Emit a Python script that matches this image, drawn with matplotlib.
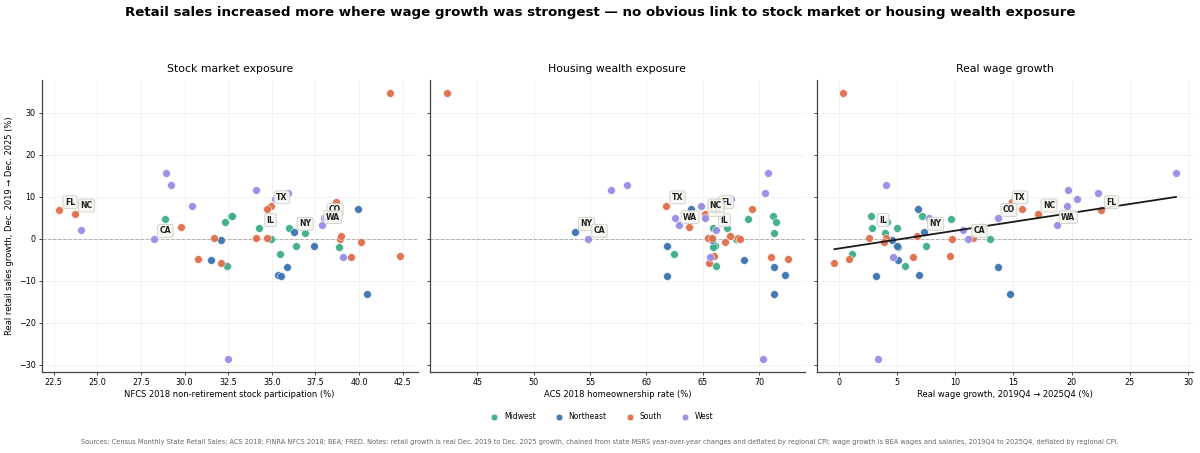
import numpy as np
import matplotlib
matplotlib.use("Agg")
import matplotlib.pyplot as plt

# ---- data ----
labels = ["", "FL", "NC", "TX", "", "", "", "", "", "", "", "", "", "", "", "", "",
          "IL", "", "", "", "", "", "", "", "", "", "", "",
          "NY", "", "", "", "", "", "", "", "",
          "CA", "CO", "WA", "", "", "", "", "", "", "", "", "", ""]
regions = (["South"] * 17 + ["Midwest"] * 12 + ["Northeast"] * 9 + ["West"] * 13)
retail = [34.6, 6.75, 5.95, 7.9, 8.7, 7.06, 2.78, 0.3, 0.16, 0.16, 0.0, 0.8, -0.7, -4.1, -4.4, -4.9, -5.7,
          2.5, 5.5, 5.4, 4.76, 4.1, 2.7, 1.35, -0.1, -1.6, -2.0, -3.7, -6.4,
          1.6, 7.06, -0.2, -1.6, -5.1, -6.75, -8.6, -8.8, -13.0,
          -0.08, 4.9, 3.2, 15.7, 12.7, 11.7, 11.0, 9.4, 7.9, 4.9, 2.06, -4.2, -28.5]
stock = [41.77, 22.79, 23.74, 34.94, 38.7, 34.73, 29.81, 34.73, 31.67, 34.08, 38.92, 38.96, 40.1, 42.38, 39.57, 30.79, 32.1,
         34.29, 32.64, 32.7, 28.9, 32.3, 35.99, 36.93, 34.94, 36.39, 38.88, 35.5, 32.43,
         36.28, 39.95, 32.09, 37.41, 31.51, 35.9, 35.34, 35.51, 40.49,
         28.26, 38.0, 37.87, 28.93, 29.24, 34.12, 35.95, 35.19, 30.44, 38.1, 24.07, 39.09, 32.51]
homeown = [42.29, 66.1, 65.16, 61.77, 66.26, 69.32, 63.81, 65.46, 65.78, 68.14, 68.26, 67.4, 66.93, 65.96, 71.06, 72.56, 65.5,
           65.93, 71.2, 66.7, 68.97, 71.47, 67.17, 71.3, 67.94, 66.1, 65.87, 62.48, 66.2,
           53.7, 63.99, 65.8, 61.8, 68.64, 71.33, 72.27, 61.86, 71.27,
           54.85, 65.19, 62.87, 70.77, 58.3, 56.82, 70.5, 67.52, 64.84, 62.51, 66.2, 65.67, 70.29]
wage = [0.34, 22.49, 17.11, 14.63, 14.86, 15.71, 12.43, 2.57, 4.03, 11.54, 9.74, 6.74, 3.86, 9.6, 6.37, 0.89, -0.37,
        2.86, 2.77, 7.14, 9.69, 4.14, 4.97, 3.97, 13.0, 7.54, 5.06, 1.17, 5.71,
        7.37, 6.77, 4.6, 5.0, 5.11, 13.71, 6.86, 3.2, 14.74,
        11.14, 13.66, 18.77, 28.97, 4.03, 19.69, 22.31, 20.46, 19.57, 7.8, 10.71, 4.63, 3.4]

region_order = ["Midwest", "Northeast", "South", "West"]
palette = {"Midwest": "#3DAD86", "Northeast": "#3A74B0", "South": "#E06E4A", "West": "#978CE6"}

panel_titles = ["Stock market exposure", "Housing wealth exposure", "Real wage growth"]
x_labels = ["NFCS 2018 non-retirement stock participation (%)",
            "ACS 2018 homeownership rate (%)",
            "Real wage growth, 2019Q4 \u2192 2025Q4 (%)"]
y_label = "Real retail sales growth, Dec. 2019 \u2192 Dec. 2025 (%)"
title = "Retail sales increased more where wage growth was strongest \u2014 no obvious link to stock market or housing wealth exposure"
note = ("Sources: Census Monthly State Retail Sales; ACS 2018; FINRA NFCS 2018; BEA; FRED. Notes: retail growth is real Dec. 2019 to Dec. 2025 growth, "
        "chained from state MSRS year-over-year changes and deflated by regional CPI; wage growth is BEA wages and salaries, 2019Q4 to 2025Q4, deflated by regional CPI.")

retail_a = np.array(retail)
regions_a = np.array(regions)
xs = [np.array(stock), np.array(homeown), np.array(wage)]

fig, axes = plt.subplots(1, 3, figsize=(12, 4.53), dpi=100, sharey=True)
fig.subplots_adjust(left=0.0348, right=0.9942, bottom=0.179, top=0.823, wspace=0.032)

for i, ax in enumerate(axes):
    x = xs[i]
    ax.grid(True, color="#f0f0f0", linewidth=0.6)
    ax.set_axisbelow(True)
    ax.axhline(0, color="#b0b0b0", linestyle="--", linewidth=0.7, zorder=1)
    for reg in region_order:
        m = regions_a == reg
        ax.scatter(x[m], retail_a[m], s=32, color=palette[reg], edgecolor="white",
                   linewidth=0.4, alpha=0.95, zorder=3, label=reg)
    if i == 2:
        b, a = np.polyfit(x, retail_a, 1)
        xx = np.array([x.min(), x.max()])
        ax.plot(xx, a + b * xx, color="#1a1a1a", linewidth=1.3, zorder=4)
    for lab, xv, yv in zip(labels, x, retail_a):
        if lab:
            ax.annotate(lab, (xv, yv), xytext=(8, 6), textcoords="offset points",
                        ha="center", va="center", fontsize=5.6, fontweight="bold",
                        color="#222222", zorder=6 if lab == "NC" else 5,
                        bbox=dict(boxstyle="round,pad=0.25", fc="#f7f7f2", ec="#cfcfc8",
                                  lw=0.7, alpha=0.9))
    ax.set_title(panel_titles[i], fontsize=7.8, pad=6)
    ax.set_xlabel(x_labels[i], fontsize=6, labelpad=2)
    ax.tick_params(labelsize=5.8, length=2.5, width=0.7, color="#444444", pad=2)
    for s in ["top", "right"]:
        ax.spines[s].set_visible(False)
    for s in ["left", "bottom"]:
        ax.spines[s].set_color("#444444")
        ax.spines[s].set_linewidth(0.9)
    ax.set_yticks([-30, -20, -10, 0, 10, 20, 30])

axes[0].set_ylabel(y_label, fontsize=6, labelpad=3)

handles, leg_labels = axes[0].get_legend_handles_labels()
fig.legend(handles, leg_labels, loc="center", bbox_to_anchor=(0.5, 0.0795), ncol=4,
           frameon=False, fontsize=5.5, markerscale=0.85, handletextpad=0.3, columnspacing=2.0)

fig.text(0.5, 0.973, title, ha="center", va="center", fontsize=9.65, fontweight="bold")
fig.text(0.5, 0.024, note, ha="center", va="center", fontsize=4.8, color="#666666")

fig.savefig("out.png", dpi=100)
